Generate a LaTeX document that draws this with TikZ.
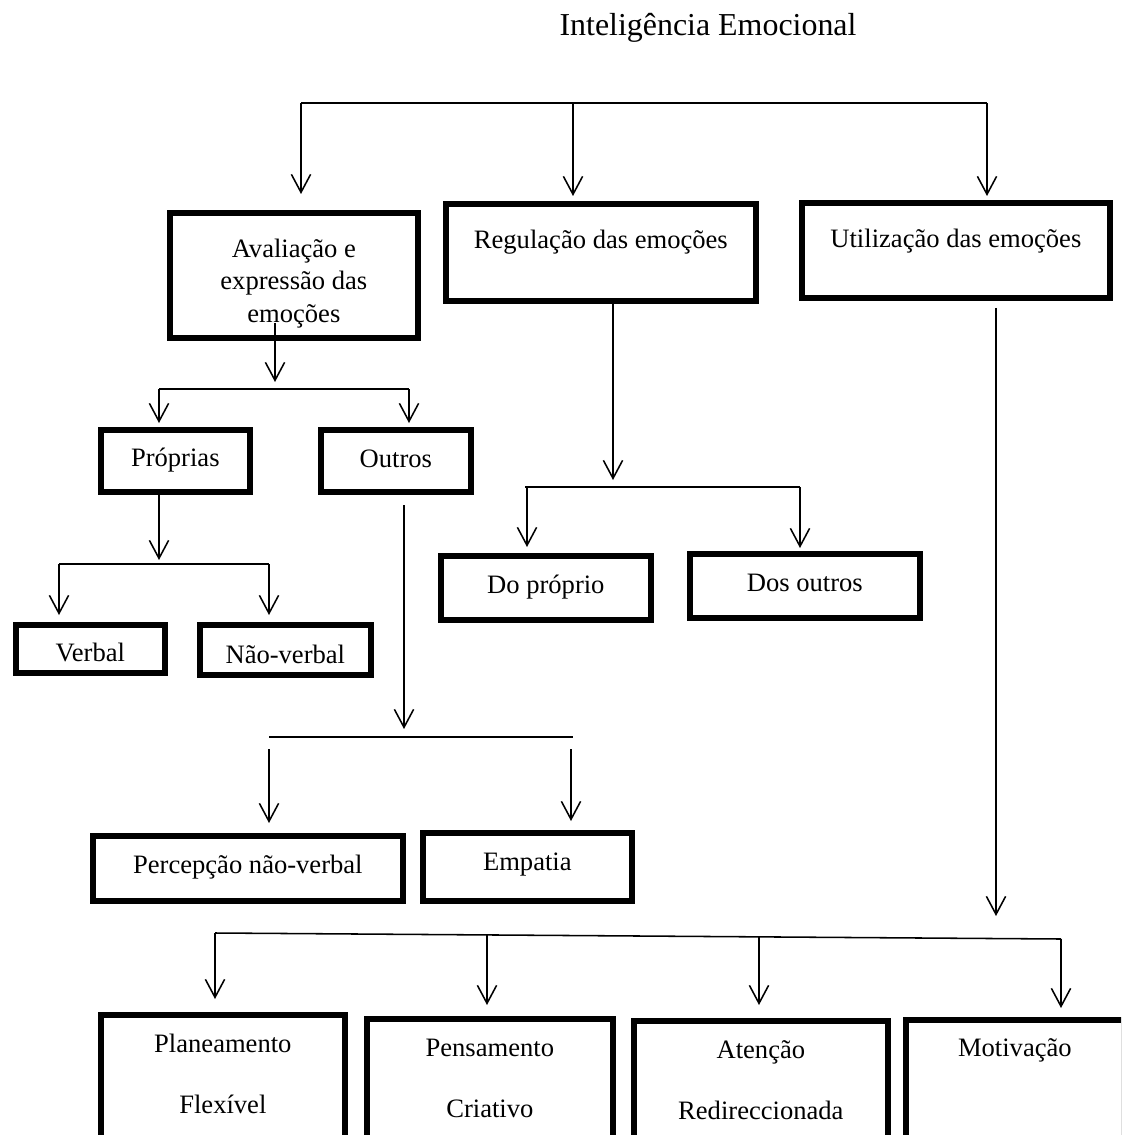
\documentclass[tikz,border=0pt]{standalone}
\usepackage{fontspec}
\setmainfont{Liberation Serif}
\usetikzlibrary{arrows.meta}

\tikzset{
	box/.style={draw, line width=4pt, inner sep=0pt, anchor=north west, font=\fontsize{18.9}{23}\selectfont},
	arr/.style={-{Straight Barb[length=0.45cm, width=0.48cm]}},
}
\newcommand{\duaslinhas}[2]{\begin{tabular}[t]{@{}c@{}}#1\\[20.4pt]#2\end{tabular}}

\begin{document}
\begin{tikzpicture}[x=0.025cm, y=-0.025cm, line width=1.1pt]
			\useasboundingbox (0,0) rectangle (1121,1135);
			\clip (0,0) rectangle (1121,1135);
			
			\node [anchor=base, font=\fontsize{22.7}{27}\selectfont] (titulo) at (708,36) {Inteligência Emocional};
			
			\begin{scope}
				\node [box, minimum width=6.2cm, text height=1.1125cm, text depth=2.0125cm] (aval) at (167,210)
					{\begin{tabular}[t]{@{}c@{}}Avaliação e\\expressão das\\emoções\end{tabular}};
				\node [box, minimum width=7.75cm, text height=1.1125cm, text depth=1.3125cm] (reg) at (443,201) {Regulação das emoções};
				\node [box, minimum width=7.7cm, text height=1.1125cm, text depth=1.2625cm] (util) at (799,200) {Utilização das emoções};
				
				\node [box, minimum width=3.725cm, text height=0.9125cm, text depth=0.6375cm] (proprias) at (98,427) {Próprias};
				\node [box, minimum width=3.75cm, text height=0.9375cm, text depth=0.6125cm] (outros) at (318,427) {Outros};
				\node [box, minimum width=3.725cm, text height=0.9125cm, text depth=0.2875cm] (verbal) at (13,622) {Verbal};
				\node [box, minimum width=4.275cm, text height=0.9625cm, text depth=0.2875cm] (naoverbal) at (197,622) {Não-verbal};
				\node [box, minimum width=7.75cm, text height=0.9375cm, text depth=0.6875cm] (percepcao) at (90,833) {Percepção não-verbal};
				\node [box, minimum width=5.225cm, text height=0.9375cm, text depth=0.7625cm] (empatia) at (420,830) {Empatia};
				
				\node [box, minimum width=5.25cm, text height=0.9375cm, text depth=0.6625cm] (doproprio) at (438,553) {Do próprio};
				\node [box, minimum width=5.75cm, text height=0.9375cm, text depth=0.6625cm] (dosoutros) at (687,551) {Dos outros};
				
				\node [box, minimum width=6.1cm, text height=0.9375cm, text depth=2.6375cm] (planeamento) at (98,1012) {\duaslinhas{Planeamento}{Flexível}};
				\node [box, minimum width=6.15cm, text height=0.9375cm, text depth=2.5375cm] (pensamento) at (364,1016) {\duaslinhas{Pensamento}{Criativo}};
				\node [box, minimum width=6.35cm, text height=0.9375cm, text depth=2.4875cm] (atencao) at (631,1018) {\duaslinhas{Atenção}{Redireccionada}};
				\node [box, minimum width=5.45cm, text height=0.9125cm, text depth=2.5375cm] (motivacao) at (903,1017) {Motivação};
			\end{scope}
			
			\coordinate (topoA) at (301,103);
			\coordinate (topoB) at (573,103);
			\coordinate (topoC) at (987,103);
			\draw (topoA) -- (topoC);
			\draw [arr] (topoA) -- (topoA |- 0,194);
			\draw [arr] (topoB) -- (topoB |- 0,196);
			\draw [arr] (topoC) -- (topoC |- 0,196);
			
			\coordinate (avalOut) at (275,323);
			\coordinate (avalA) at (159,389);
			\coordinate (avalB) at (409,389);
			\draw [arr] (avalOut) -- (avalOut |- 0,382);
			\draw (avalA) -- (avalB);
			\draw [arr] (avalA) -- (avalA |- 0,423);
			\draw [arr] (avalB) -- (avalB |- 0,423);
			
			\coordinate (propA) at (59,564);
			\coordinate (propB) at (269,564);
			\draw [arr] (proprias.south -| 159,0) -- (159,560);
			\draw (propA) -- (propB);
			\draw [arr] (propA) -- (propA |- 0,615);
			\draw [arr] (propB) -- (propB |- 0,615);
			
			\coordinate (outrosOut) at (404,505);
			\coordinate (outrosA) at (269,737);
			\coordinate (outrosB) at (573,737);
			\draw [arr] (outrosOut) -- (outrosOut |- 0,729);
			\draw (outrosA) -- (outrosB);
			\draw [arr] (269,749) -- (269,823);
			\draw [arr] (571,749) -- (571,821);
			
			\coordinate (regA) at (525,487);
			\coordinate (regB) at (800,487);
			\draw [arr] (reg.south -| 613,0) -- (613,480);
			\draw (regA) -- (regB);
			\draw [arr] (527,487) -- (527,547);
			\draw [arr] (regB) -- (regB |- 0,548);
			
			\coordinate (utilOut) at (996,308);
			\coordinate (utilA) at (215,933);
			\coordinate (utilB) at (1061,939);
			\draw [arr] (utilOut) -- (utilOut |- 0,916);
			\draw (utilA) -- (utilB);
			\draw [arr] (utilA) -- (utilA |- 0,999);
			\draw [arr] (487,934.9) -- (487,1005);
			\draw [arr] (759,936.9) -- (759,1005);
			\draw [arr] (utilB) -- (utilB |- 0,1008);
			
		\end{tikzpicture}
\end{document}
